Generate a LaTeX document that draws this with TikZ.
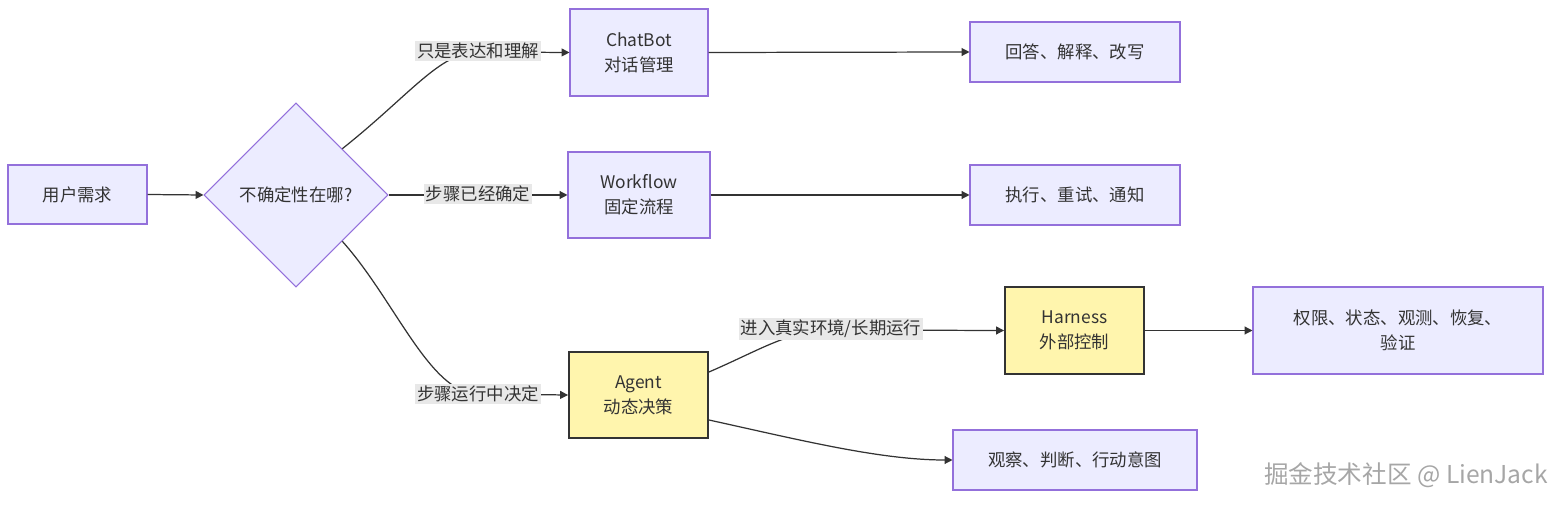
\documentclass[tikz,border=0pt]{standalone}
\usepackage{fontspec}
\setmainfont{Noto Sans CJK SC}
\usetikzlibrary{arrows.meta,shapes.geometric}
\definecolor{pfill}{HTML}{ECECFF}
\definecolor{pline}{HTML}{9370DB}
\definecolor{yfill}{HTML}{FFF5AD}
\definecolor{ink}{HTML}{333333}
\definecolor{lblbg}{HTML}{E8E8E8}
\tikzset{
  every node/.style={font=\fontsize{9.9}{14.2}\selectfont, text=ink},
  pbox/.style={draw=pline, fill=pfill, line width=0.6pt, rectangle, inner sep=0pt, align=center},
  ybox/.style={draw=ink, fill=yfill, line width=1.1pt, rectangle, inner sep=0pt, align=center},
  dec/.style={draw=pline, fill=pfill, line width=0.6pt, diamond, aspect=1, inner sep=0pt, minimum width=184*0.02cm, minimum height=184*0.02cm},
  edge/.style={draw=ink, line width=0.7pt, -{Triangle[length=4.5pt,width=4.5pt]}},
  lbl/.style={fill=lblbg, inner sep=1pt},
}
\begin{document}
\begin{tikzpicture}[x=0.02cm,y=-0.02cm]
\useasboundingbox (0,0) rectangle (1568,506);
\node[pbox, minimum width=139*0.02cm, minimum height=59*0.02cm] (user) at (77.5,194.5) {用户需求};
\node[dec] (q) at (296,195) {不确定性在哪?};
\node[pbox, minimum width=138*0.02cm, minimum height=87*0.02cm] (chat) at (639,52.5) {ChatBot\\对话管理};
\node[pbox, minimum width=142*0.02cm, minimum height=86*0.02cm] (wf) at (639,195) {Workflow\\固定流程};
\node[ybox, minimum width=139*0.02cm, minimum height=86*0.02cm] (agent) at (638.5,395) {Agent\\动态决策};
\node[pbox, minimum width=210*0.02cm, minimum height=60*0.02cm] (ans) at (1075,52) {回答、解释、改写};
\node[pbox, minimum width=210*0.02cm, minimum height=60*0.02cm] (exe) at (1075,195) {执行、重试、通知};
\node[ybox, minimum width=139*0.02cm, minimum height=87*0.02cm] (har) at (1074.5,330.5) {Harness\\外部控制};
\node[pbox, minimum width=290*0.02cm, minimum height=87*0.02cm] (perm) at (1398,330.5) {权限、状态、观测、恢复、\\验证};
\node[pbox, minimum width=244*0.02cm, minimum height=60*0.02cm] (obs) at (1075,460) {观察、判断、行动意图};

\draw[edge] (user.east) -- (q.west);
\draw[edge] (q.north east) .. controls (410,95) and (440,52) .. (478,52) -- (chat.west);
\draw[edge] (q.east) -- (wf.west);
\draw[edge] (q.south east) .. controls (395,300) and (430,394) .. (478,394) -- (agent.west);
\draw[edge] (chat.east) -- (ans.west);
\draw[edge] (wf.east) -- (exe.west);
\draw[edge] (agent.east |- 0,372) .. controls (760,350) and (790,330) .. (831,330) -- (har.west);
\draw[edge] (har.east) -- (perm.west);
\draw[edge] (agent.east |- 0,420) .. controls (800,440) and (880,460) .. (obs.west);

\node[lbl] (l1) at (478,51) {只是表达和理解};
\node[lbl] (l2) at (478,194) {步骤已经确定};
\node[lbl] (l3) at (478,394) {步骤运行中决定};
\node[lbl] (l4) at (831,329) {进入真实环境/长期运行};

\node[text=gray!70, font=\fontsize{14}{16}\selectfont] (wm) at (1406,475) {掘金技术社区 @ LienJack};
\end{tikzpicture}
\end{document}
